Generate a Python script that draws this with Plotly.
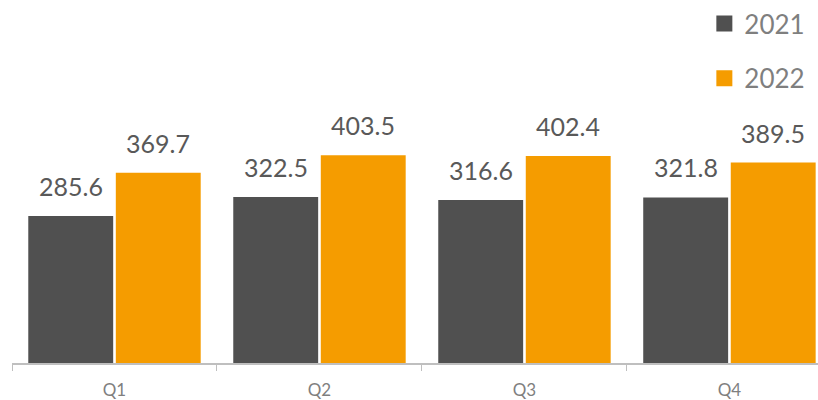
import plotly.graph_objects as go

categories = ["Q1", "Q2", "Q3", "Q4"]
years = ["2021", "2022"]
values_2021 = [285.6, 322.5, 316.6, 321.8]
values_2022 = [369.7, 403.5, 402.4, 389.5]
colors = {"2021": "#505050", "2022": "#F59C00"}

series = {"2021": values_2021, "2022": values_2022}

fig = go.Figure()
for yr in years:
    fig.add_trace(go.Bar(
        x=categories, y=series[yr], name=yr,
        marker=dict(color=colors[yr], line=dict(width=0)),
        showlegend=False, hoverinfo="skip",
    ))
# legend entries with larger square markers
for i, yr in enumerate(years):
    fig.add_trace(go.Scatter(
        x=[None], y=[None], mode="markers", name=yr,
        marker=dict(symbol="square", size=18, color=colors[yr]),
        legendgroup=yr, showlegend=True,
    ))

# value labels above bars
slot_px = 205 * (1 - 0.146) / 2
for i, yr in enumerate(years):
    shift = (-0.5 if i == 0 else 0.5) * slot_px
    for c, v in zip(categories, series[yr]):
        fig.add_annotation(
            x=c, y=v, text=f"{v:.1f}", showarrow=False,
            xref="x", yref="y", xshift=shift, yshift=13,
            yanchor="bottom", xanchor="center",
            font=dict(family="Lato", size=25, color="#595959"),
        )

fig.update_layout(
    width=818, height=400,
    margin=dict(l=12, r=0, t=0, b=37, autoexpand=False),
    barmode="group", bargap=0.146, bargroupgap=0.03,
    plot_bgcolor="white", paper_bgcolor="white",
    font=dict(family="Lato", color="#7f7f7f"),
    legend=dict(
        x=0.859, y=1.0, xanchor="left", yanchor="top",
        font=dict(family="Lato", size=26, color="#7f7f7f"),
        traceorder="grouped", tracegroupgap=18,
        bgcolor="rgba(0,0,0,0)", itemwidth=30,
    ),
    xaxis=dict(
        type="category", range=[-0.5, 3.432], automargin=False,
        showline=True, linecolor="#bfbfbf", linewidth=1.5,
        ticks="outside", tickson="boundaries", ticklen=6, tickcolor="#bfbfbf",
        tickfont=dict(family="Lato", size=17, color="#7f7f7f"),
        ticklabelstandoff=11, showgrid=False,
    ),
    yaxis=dict(range=[0, 705.3], visible=False, showgrid=False, automargin=False),
)

fig.write_html(
    "out.html",
    config={"displayModeBar": False},
    post_script="document.body.style.margin='0';document.body.style.overflow='hidden';",
)
